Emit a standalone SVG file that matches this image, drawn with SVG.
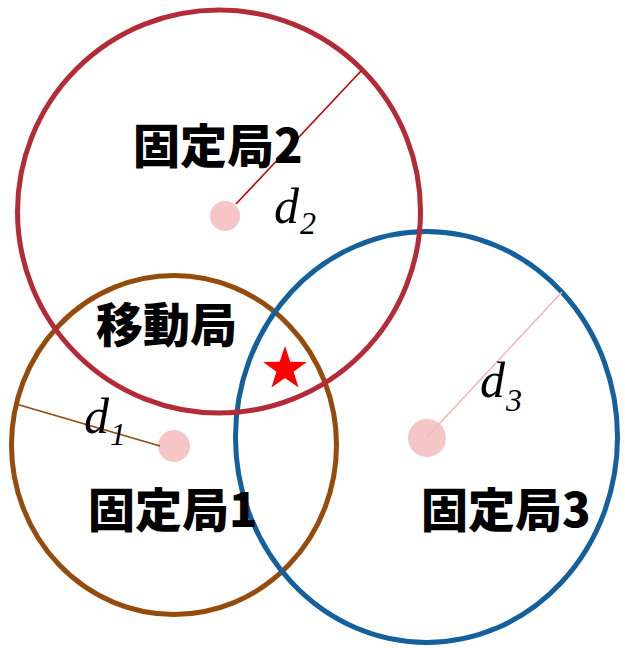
<svg xmlns="http://www.w3.org/2000/svg" width="625" height="648" viewBox="0 0 625 648">
<style>
.ring{fill:none;stroke-width:5}
.dot{fill:#F6C5C5}
.lbl{font-family:"Noto Sans CJK JP","Noto Sans CJK SC",sans-serif;font-weight:900;font-size:47px;fill:#000}
.d{font-family:"Liberation Serif",serif;font-style:italic;fill:#000;font-size:50px}
.sub{font-size:32px}
</style>
<rect width="625" height="648" fill="#fff"/>
<g id="station1">
<ellipse class="ring" cx="174" cy="445" rx="162.5" ry="169.5" stroke="#954B0C"/>
<circle class="dot" cx="174" cy="446" r="16"/>
</g>
<g id="station3">
<ellipse class="ring" cx="426.5" cy="437" rx="191" ry="205.5" stroke="#14609C"/>
<circle class="dot" cx="427" cy="438" r="19"/>
</g>
<g id="station2">
<circle class="ring" cx="219" cy="211.5" r="201.5" stroke="#B22B36"/>
<circle class="dot" cx="225" cy="216" r="15"/>
</g>
<g id="connectors">
<line x1="236" y1="204" x2="361" y2="71" stroke="#C00000" stroke-width="1.6"/>
<line x1="16" y1="404" x2="160" y2="446" stroke="#8F4A0E" stroke-width="1.6"/>
<line x1="427" y1="437" x2="562" y2="292" stroke="#F2B8B8" stroke-width="1.6"/>
</g>
<g id="labels">
<text class="lbl" x="133" y="163">固定局2</text>
<text class="lbl" x="96" y="342">移動局</text>
<text class="lbl" x="88" y="527">固定局1</text>
<text class="lbl" x="421" y="527">固定局3</text>
<text class="d" x="274" y="223">d<tspan class="sub" dy="11" dx="1">2</tspan></text>
<text class="d" x="84" y="433">d<tspan class="sub" dy="12" dx="1">1</tspan></text>
<text class="d" x="480" y="397">d<tspan class="sub" dy="14" dx="1">3</tspan></text>
</g>
<g id="mobile">
<polygon fill="#FF0000" points="285,346 290.29,361.72 306.87,361.89 293.56,371.78 298.52,387.61 285,378 271.48,387.61 276.44,371.78 263.13,361.89 279.71,361.72"/>
</g>
</svg>
